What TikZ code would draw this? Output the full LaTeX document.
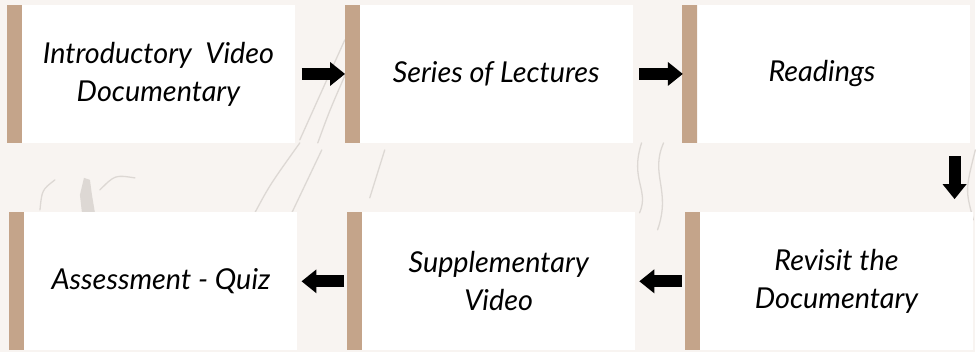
\documentclass[tikz,border=0pt]{standalone}
\usepackage{fontspec}
\setmainfont{Lato}
\usetikzlibrary{arrows.meta}
\definecolor{bgcol}{HTML}{F8F4F1}
\definecolor{barcol}{HTML}{C4A48A}
\definecolor{sketch}{HTML}{DDD8D4}
\begin{document}
\begin{tikzpicture}[x=1pt,y=-1pt,
  stage/.style={rectangle,fill=white,minimum width=273pt,minimum height=138pt,
    inner sep=0pt,align=center,font=\fontsize{28.8}{38}\selectfont\itshape},
  flow/.style={line width=12pt,-{Triangle[length=15pt,width=23pt]}},
  scribble/.style={sketch,line width=1.3pt,line cap=round}]

  % page and faint sketch
  \fill[bgcol] (0,0) rectangle (976,352);
  \draw[scribble] (300,140) -- (345,40);
  \draw[scribble] (318,143) .. controls (330,110) .. (352,60);
  \draw[scribble] (255,213) .. controls (270,185) .. (300,143);
  \draw[scribble] (292,213) -- (322,150);
  \draw[scribble] (370,198) -- (385,150);
  \draw[scribble] (642,143) .. controls (630,180) and (650,190) .. (640,213);
  \draw[scribble] (664,143) .. controls (650,175) and (672,190) .. (658,230);
  \draw[scribble] (976,150) .. controls (966,190) .. (974,220);
  \draw[scribble] (40,210) .. controls (42,190) .. (55,180);
  \fill[sketch] (82,213) -- (80,195) -- (84,178) -- (90,180) -- (92,195) -- (95,213) -- cycle;
  \draw[scribble] (100,190) .. controls (115,175) .. (135,178);

  % stages
  \node[stage] (A) at (158.5,74) {Introductory\ \ Video\\Documentary};
  \node[stage] (B) at (496.5,74) {Series of Lectures};
  \node[stage] (C) at (834.5,74) {Readings\hspace*{24pt}};
  \node[stage] (D) at (161,281.5) {Assessment - Quiz};
  \node[stage] (E) at (499,281.5) {Supplementary\\Video};
  \node[stage] (F) at (837,281.5) {Revisit the\\Documentary};

  \foreach \n in {A,B,C,D,E,F}
    \fill[barcol] (\n.north west) rectangle ([xshift=-15pt]\n.south west);

  % arrows
  \coordinate (down1) at ([xshift=-16pt]C.south east);
  \coordinate (down2) at (down1 |- F.north);
  \draw[flow,shorten <=6.5pt,shorten >=14.5pt] (A) -- (B);
  \draw[flow,shorten <=6.5pt,shorten >=14.5pt] (B) -- (C);
  \draw[flow,shorten <=13pt,shorten >=13pt] (down1) -- (down2);
  \draw[flow,shorten <=18pt,shorten >=4pt] (F) -- (E);
  \draw[flow,shorten <=18pt,shorten >=4pt] (E) -- (D);
\end{tikzpicture}
\end{document}
